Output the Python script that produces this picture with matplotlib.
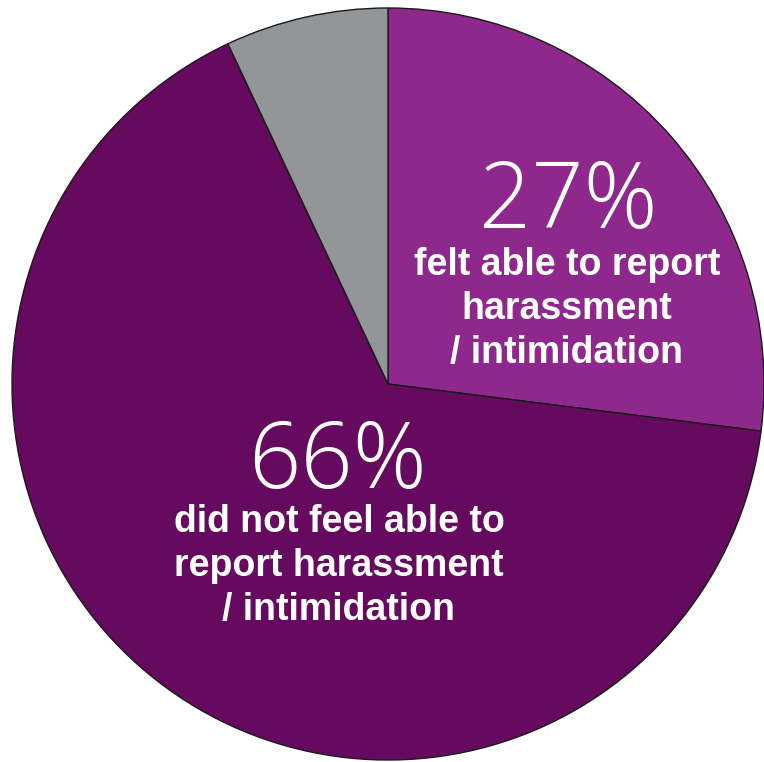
import matplotlib
matplotlib.use("Agg")
import matplotlib.pyplot as plt

# Survey responses: able to report harassment / intimidation
labels = ["felt able to report\nharassment\n/ intimidation",
          "did not feel able to\nreport harassment\n/ intimidation",
          "other"]
shares = [27, 66, 7]
colors = ["#8E288D", "#650A5E", "#939598"]

W, H = 764, 762
fig = plt.figure(figsize=(W / 100, H / 100), dpi=100)
ax = fig.add_axes([0, 0, 1, 1])

cx, cy, r = 388, 378, 376
ax.pie(shares, colors=colors, startangle=90, counterclock=False,
       center=(cx, cy), radius=r, frame=True,
       wedgeprops=dict(edgecolor="#1a1a1a", linewidth=1.0))
ax.set_xlim(0, W)
ax.set_ylim(0, H)
ax.set_aspect("equal")
ax.axis("off")

big = dict(family=["Open Sans", "DejaVu Sans"], weight=300, fontsize=66,
           color="white", ha="center", va="baseline")
small = dict(family=["Liberation Sans", "DejaVu Sans"], weight="bold",
             fontsize=27, color="white", ha="center", va="baseline")

# 27% label block
ax.text(568, 534, f"{shares[0]}%", **big)
for i, line in enumerate(labels[0].split("\n")):
    ax.text(567, 487 - 44 * i, line, **small)

# 66% label block
ax.text(337, 274, f"{shares[1]}%", **big)
for i, line in enumerate(labels[1].split("\n")):
    ax.text(339, 230 - 44 * i, line, **small)

fig.savefig("out.png", dpi=100, facecolor="white")
